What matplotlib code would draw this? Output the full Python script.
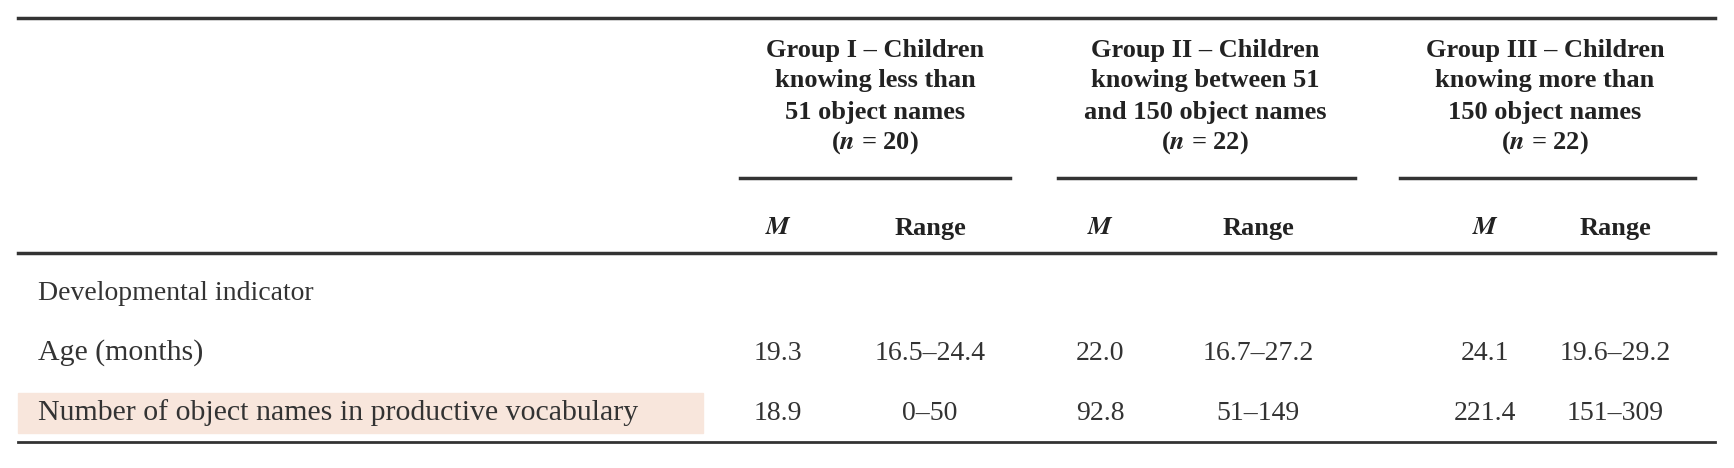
import matplotlib
matplotlib.use("Agg")
import matplotlib.pyplot as plt
from matplotlib.patches import Rectangle

plt.rcParams['font.family'] = ['Liberation Serif', 'DejaVu Serif']
plt.rcParams['mathtext.fontset'] = 'stix'

groups = [["Group I – Children", "knowing less than", "51 object names", "20"],
          ["Group II – Children", "knowing between 51", "and 150 object names", "22"],
          ["Group III – Children", "knowing more than", "150 object names", "22"]]
row_labels = ["Age (months)", "Number of object names in productive vocabulary"]
means = [["19.3", "22.0", "24.1"], ["18.9", "92.8", "221.4"]]
ranges = [["16.5–24.4", "16.7–27.2", "19.6–29.2"], ["0–50", "51–149", "151–309"]]

W, H = 1734, 468
fig = plt.figure(figsize=(W/100, H/100), dpi=100)
ax = fig.add_axes([0, 0, 1, 1])
ax.set_xlim(0, W); ax.set_ylim(H, 0); ax.axis('off')

fs = 20
hfs = 19
gc = [875, 1205, 1545]
gx = [(740, 1010), (1058, 1355), (1400, 1695)]
mx = [778, 1100, 1485]
rx = [930, 1258, 1615]

ax.plot([18, 1715], [18, 18], color='#333', lw=2.5)
ax.plot([18, 1715], [253, 253], color='#333', lw=2.5)
ax.plot([18, 1715], [442, 442], color='#333', lw=2.0)
for (a, b) in gx:
    ax.plot([a, b], [178, 178], color='#333', lw=2.5)

for i, g in enumerate(groups):
    for j, line in enumerate(g[:3]):
        ax.text(gc[i], 50 + 31*j, line, ha='center', va='center', fontsize=hfs, fontweight='bold', color='#222')
    ax.text(gc[i], 143, f"($\\mathbfit{{n}}$ = {g[3]})", ha='center', va='center', fontsize=hfs, fontweight='bold', color='#222')
    ax.text(mx[i], 228, "$\\mathbfit{M}$", ha='center', va='center', fontsize=hfs, color='#222')
    ax.text(rx[i], 228, "Range", ha='center', va='center', fontsize=hfs, fontweight='bold', color='#222')

ax.add_patch(Rectangle((18, 393), 685, 40, color='#f8e6dc', zorder=0))
ax.text(38, 293, "Developmental indicator", ha='left', va='center', fontsize=fs, color='#333')
for r, lab in enumerate(row_labels):
    y = 353 + 60*r
    ax.text(38, y, lab, ha='left', va='center', fontsize=fs + 1.5, color='#333')
    for i in range(3):
        ax.text(mx[i], y, means[r][i], ha='center', va='center', fontsize=fs, color='#333')
        ax.text(rx[i], y, ranges[r][i], ha='center', va='center', fontsize=fs, color='#333')

fig.savefig("out.png", dpi=100)
